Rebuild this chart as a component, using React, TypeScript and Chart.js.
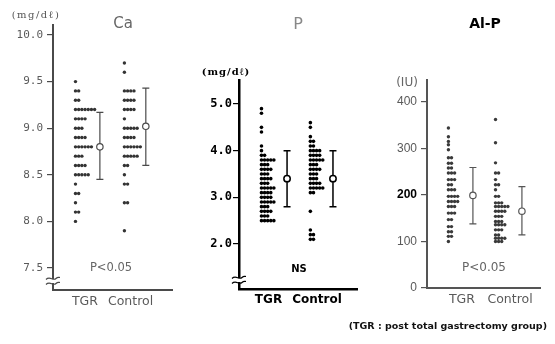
import React, { useEffect, useRef } from "react";
import { Chart, registerables } from "chart.js";

Chart.register(...registerables);

// ---------- data ----------
const groupLabels = ["TGR", "Control"];

// Ca (mg/dl)
const caTgrValues = [9.5, 9.4, 9.3, 9.2, 9.1, 9.0, 8.9, 8.8, 8.7, 8.6, 8.5, 8.4, 8.3, 8.2, 8.1, 8.0];
const caTgrCounts = [1, 2, 2, 7, 4, 3, 4, 6, 3, 4, 5, 1, 2, 1, 2, 1];
const caCtrlValues = [9.7, 9.6, 9.4, 9.3, 9.2, 9.1, 9.0, 8.9, 8.8, 8.7, 8.6, 8.5, 8.4, 8.2, 7.9];
const caCtrlCounts = [1, 1, 4, 4, 4, 1, 5, 4, 6, 5, 2, 1, 2, 2, 1];
const caMeans = [8.8, 9.02];
const caLows = [8.45, 8.6];
const caHighs = [9.17, 9.43];
const caTicks = [7.5, 8.0, 8.5, 9.0, 9.5, 10.0];
const caRange = [7.264, 10.107];

// P (mg/dl)
const pTgrValues = [4.9, 4.8, 4.5, 4.4, 4.1, 4.0, 3.9, 3.8, 3.7, 3.6, 3.5, 3.4, 3.3, 3.2, 3.1, 3.0, 2.9, 2.8, 2.7, 2.6, 2.5];
const pTgrCounts = [1, 1, 1, 1, 1, 1, 2, 5, 3, 4, 3, 4, 3, 5, 4, 4, 5, 3, 4, 3, 5];
const pCtrlValues = [4.6, 4.5, 4.3, 4.2, 4.1, 4.0, 3.9, 3.8, 3.7, 3.6, 3.5, 3.4, 3.3, 3.2, 3.1, 2.7, 2.3, 2.2, 2.1];
const pCtrlCounts = [1, 1, 1, 2, 2, 4, 4, 5, 3, 4, 3, 3, 4, 5, 2, 1, 1, 2, 2];
const pMeans = [3.4, 3.4];
const pLows = [2.8, 2.8];
const pHighs = [4.0, 4.0];
const pTicks = [2.0, 3.0, 4.0, 5.0];
const pRange = [1.036, 5.514];

// Al-P (IU)
const alpTgrValues = [344, 325, 315, 308, 297, 280, 268, 258, 247, 233, 222, 211, 197, 186, 175, 161, 147, 132, 121, 111, 100];
const alpTgrCounts = [1, 1, 1, 1, 1, 2, 2, 2, 3, 3, 2, 3, 4, 4, 3, 3, 2, 2, 2, 2, 1];
const alpCtrlValues = [362, 312, 269, 247, 233, 222, 211, 197, 183, 175, 165, 154, 143, 136, 125, 114, 107, 100];
const alpCtrlCounts = [1, 1, 1, 2, 1, 2, 1, 2, 3, 5, 4, 3, 3, 4, 3, 2, 4, 3];
const alpMeans = [199, 165];
const alpLows = [138, 114];
const alpHighs = [259, 218];
const alpTicks = [0, 100, 200, 300, 400];
const alpRange = [0, 447];

const footnote = "(TGR : post total gastrectomy group)";

// ---------- layout / style ----------
type Panel = {
  key: string;
  tgr: [number[], number[]];
  ctrl: [number[], number[]];
  means: number[];
  lows: number[];
  highs: number[];
  ticks: number[];
  range: number[];
  decimals: number;
  area: { left: number; right: number; top: number; bottom: number };
  xMax: number;
  dotStart: number[];
  dotStep: number;
  dotRadius: number;
  meanX: number[];
  labelX: number[];
  ink: string;
  dotInk: string;
  textInk: string;
  axisWidth: number;
  tickFont: (v: number) => any;
  tickColor: (v: number) => string;
  tickLen: number;
  tickPad: number;
  xFont: any;
  title: string;
  titleFont: string;
  titleColor: string;
  titlePos: number[];
  unit: string;
  unitFont: string;
  unitColor: string;
  unitPos: number[];
  unitSpacing: string;
  note: string;
  noteFont: string;
  noteColor: string;
  notePos: number[];
  hasBreak: boolean;
  footnote?: boolean;
};

const W = 555;
const H = 344;

const panels: Panel[] = [
  {
    key: "ca",
    tgr: [caTgrValues, caTgrCounts],
    ctrl: [caCtrlValues, caCtrlCounts],
    means: caMeans,
    lows: caLows,
    highs: caHighs,
    ticks: caTicks,
    range: caRange,
    decimals: 1,
    area: { left: 53, right: 172, top: 25, bottom: 290 },
    xMax: 5.0,
    dotStart: [0.945, 3.0],
    dotStep: 0.134,
    dotRadius: 1.7,
    meanX: [1.97, 3.9],
    labelX: [1.34, 3.26],
    ink: "#4a4a4a",
    dotInk: "#333",
    textInk: "#5a5a5a",
    axisWidth: 2,
    tickFont: () => ({ family: "'DejaVu Sans Mono'", size: 11 }),
    tickColor: () => "#5a5a5a",
    tickLen: 6,
    tickPad: 4,
    xFont: { family: "'DejaVu Sans'", size: 12.5 },
    title: "Ca",
    titleFont: "15px 'DejaVu Sans'",
    titleColor: "#666",
    titlePos: [123, 24],
    unit: "(mg/dℓ)",
    unitFont: "10px 'DejaVu Serif'",
    unitColor: "#555",
    unitPos: [36, 15],
    unitSpacing: "1.5px",
    note: "P<0.05",
    noteFont: "11.5px 'DejaVu Sans'",
    noteColor: "#666",
    notePos: [111, 268],
    hasBreak: true,
  },
  {
    key: "p",
    tgr: [pTgrValues, pTgrCounts],
    ctrl: [pCtrlValues, pCtrlCounts],
    means: pMeans,
    lows: pLows,
    highs: pHighs,
    ticks: pTicks,
    range: pRange,
    decimals: 1,
    area: { left: 239, right: 357, top: 80, bottom: 289 },
    xMax: 4.96,
    dotStart: [0.945, 3.0],
    dotStep: 0.13,
    dotRadius: 1.8,
    meanX: [2.02, 3.95],
    labelX: [1.24, 3.28],
    ink: "#000",
    dotInk: "#000",
    textInk: "#000",
    axisWidth: 2.5,
    tickFont: () => ({ family: "'DejaVu Sans Mono'", size: 12, weight: "bold" }),
    tickColor: () => "#000",
    tickLen: 6,
    tickPad: 1,
    xFont: { family: "'DejaVu Sans'", size: 12, weight: "bold" },
    title: "P",
    titleFont: "16px 'DejaVu Sans'",
    titleColor: "#888",
    titlePos: [298, 25],
    unit: "(mg/dℓ)",
    unitFont: "bold 10px 'DejaVu Serif'",
    unitColor: "#000",
    unitPos: [226, 72],
    unitSpacing: "1px",
    note: "NS",
    noteFont: "bold 10px 'DejaVu Sans'",
    noteColor: "#000",
    notePos: [299, 269],
    hasBreak: true,
  },
  {
    key: "alp",
    tgr: [alpTgrValues, alpTgrCounts],
    ctrl: [alpCtrlValues, alpCtrlCounts],
    means: alpMeans,
    lows: alpLows,
    highs: alpHighs,
    ticks: alpTicks,
    range: alpRange,
    decimals: 0,
    area: { left: 427, right: 540, top: 80, bottom: 288 },
    xMax: 4.75,
    dotStart: [0.9, 2.88],
    dotStep: 0.13,
    dotRadius: 1.7,
    meanX: [1.93, 3.99],
    labelX: [1.47, 3.49],
    ink: "#555",
    dotInk: "#3a3a3a",
    textInk: "#5a5a5a",
    axisWidth: 2,
    tickFont: (v: number) => ({ family: "'Liberation Sans'", size: 12, weight: v === 200 ? "bold" : "normal" }),
    tickColor: (v: number) => (v === 200 ? "#000" : "#5a5a5a"),
    tickLen: 6,
    tickPad: 4,
    xFont: { family: "'DejaVu Sans'", size: 12.5 },
    title: "Al-P",
    titleFont: "bold 14px 'DejaVu Sans'",
    titleColor: "#000",
    titlePos: [485, 24],
    unit: "(IU)",
    unitFont: "12px 'DejaVu Sans'",
    unitColor: "#666",
    unitPos: [407, 83],
    unitSpacing: "0px",
    note: "P<0.05",
    noteFont: "12px 'DejaVu Sans'",
    noteColor: "#666",
    notePos: [484, 268],
    hasBreak: false,
    footnote: true,
  },
];

function expandDots(values: number[], counts: number[], start: number, step: number) {
  const pts: { x: number; y: number }[] = [];
  values.forEach((v, i) => {
    for (let k = 0; k < counts[i]; k++) pts.push({ x: start + k * step, y: v });
  });
  return pts;
}

function buildChart(canvas: HTMLCanvasElement, p: Panel) {
  const xAxisH = 22;
  const yAxisW = 45;
  const decor = {
    id: "decor_" + p.key,
    afterDatasetsDraw(chart: any) {
      const ctx = chart.ctx;
      const xs = chart.scales.x;
      const ys = chart.scales.y;
      ctx.save();
      ctx.strokeStyle = p.ink;
      ctx.lineWidth = p.key === "p" ? 1.5 : 1.2;
      for (let i = 0; i < 2; i++) {
        const x = xs.getPixelForValue(p.meanX[i]);
        const yl = ys.getPixelForValue(p.lows[i]);
        const yh = ys.getPixelForValue(p.highs[i]);
        ctx.beginPath();
        ctx.moveTo(x, yl);
        ctx.lineTo(x, yh);
        ctx.moveTo(x - 3.5, yl);
        ctx.lineTo(x + 3.5, yl);
        ctx.moveTo(x - 3.5, yh);
        ctx.lineTo(x + 3.5, yh);
        ctx.stroke();
        const ym = ys.getPixelForValue(p.means[i]);
        ctx.beginPath();
        ctx.arc(x, ym, 3.2, 0, Math.PI * 2);
        ctx.fillStyle = "#fff";
        ctx.fill();
        ctx.stroke();
      }
      ctx.restore();
    },
    afterDraw(chart: any) {
      const ctx = chart.ctx;
      const ca = chart.chartArea;
      ctx.save();
      ctx.textAlign = "center";
      ctx.textBaseline = "middle";
      ctx.font = p.titleFont;
      ctx.fillStyle = p.titleColor;
      ctx.fillText(p.title, p.titlePos[0], p.titlePos[1]);
      ctx.font = p.unitFont;
      ctx.fillStyle = p.unitColor;
      (ctx as any).letterSpacing = p.unitSpacing;
      ctx.fillText(p.unit, p.unitPos[0], p.unitPos[1]);
      (ctx as any).letterSpacing = "0px";
      ctx.font = p.noteFont;
      ctx.fillStyle = p.noteColor;
      ctx.fillText(p.note, p.notePos[0], p.notePos[1]);
      if (p.hasBreak) {
        const bx = ca.left;
        const by = ca.bottom - 9;
        ctx.fillStyle = "#fff";
        ctx.beginPath();
        ctx.rect(bx - 4, by - 2, 8, 4);
        ctx.fill();
        ctx.strokeStyle = p.ink;
        ctx.lineWidth = 1.2;
        for (const off of [-2.5, 2.5]) {
          const y = by + off;
          ctx.beginPath();
          ctx.moveTo(bx - 7, y + 1);
          ctx.bezierCurveTo(bx - 3, y - 3, bx + 0, y + 3, bx + 3, y);
          ctx.bezierCurveTo(bx + 5, y - 2, bx + 6, y - 1, bx + 7, y - 1);
          ctx.stroke();
        }
      }
      if (p.footnote) {
        ctx.font = "bold 9.5px 'DejaVu Sans'";
        ctx.fillStyle = "#111";
        ctx.textAlign = "right";
        ctx.fillText(footnote, 547, 327);
      }
      ctx.restore();
    },
  };

  return new Chart(canvas, {
    type: "scatter",
    data: {
      datasets: [
        {
          label: groupLabels[0],
          data: expandDots(p.tgr[0], p.tgr[1], p.dotStart[0], p.dotStep),
          pointRadius: p.dotRadius,
          pointBackgroundColor: p.dotInk,
          pointBorderWidth: 0,
        },
        {
          label: groupLabels[1],
          data: expandDots(p.ctrl[0], p.ctrl[1], p.dotStart[1], p.dotStep),
          pointRadius: p.dotRadius,
          pointBackgroundColor: p.dotInk,
          pointBorderWidth: 0,
        },
      ],
    },
    options: {
      responsive: false,
      animation: false,
      devicePixelRatio: 1,
      events: [],
      layout: {
        padding: {
          left: p.area.left - yAxisW,
          right: W - p.area.right,
          top: p.area.top,
          bottom: H - p.area.bottom - xAxisH,
        },
      },
      plugins: { legend: { display: false }, tooltip: { enabled: false }, title: { display: false } },
      scales: {
        x: {
          type: "linear",
          min: 0,
          max: p.xMax,
          afterFit: (s: any) => {
            s.height = xAxisH;
          },
          afterBuildTicks: (s: any) => {
            s.ticks = p.labelX.map((v) => ({ value: v }));
          },
          grid: { display: false, drawTicks: false },
          border: { display: true, color: p.ink, width: p.axisWidth },
          ticks: {
            autoSkip: false,
            maxRotation: 0,
            padding: 4,
            color: p.textInk,
            font: p.xFont,
            callback: (_v: any, i: number) => groupLabels[i],
          },
        },
        y: {
          type: "linear",
          min: p.range[0],
          max: p.range[1],
          afterFit: (s: any) => {
            s.width = yAxisW;
          },
          afterBuildTicks: (s: any) => {
            s.ticks = p.ticks.map((v) => ({ value: v }));
          },
          grid: {
            display: true,
            drawOnChartArea: false,
            drawTicks: true,
            tickLength: p.tickLen,
            color: p.ink,
            lineWidth: 1.2,
          },
          border: { display: true, color: p.ink, width: p.axisWidth },
          ticks: {
            autoSkip: false,
            padding: p.tickPad,
            color: (c: any) => p.tickColor(c.tick ? c.tick.value : 0),
            font: (c: any) => p.tickFont(c.tick ? c.tick.value : 0),
            callback: (v: any) => Number(v).toFixed(p.decimals),
          },
        },
      },
    },
    plugins: [decor],
  } as any);
}

function PanelCanvas({ panel }: { panel: Panel }) {
  const ref = useRef<HTMLCanvasElement>(null);
  useEffect(() => {
    if (!ref.current) return;
    const chart = buildChart(ref.current, panel);
    return () => chart.destroy();
  }, [panel]);
  return (
    <canvas
      ref={ref}
      width={W}
      height={H}
      style={{ position: "absolute", left: 0, top: 0, width: W, height: H }}
    />
  );
}

export default function App() {
  return (
    <div style={{ position: "absolute", left: 0, top: 0, width: W, height: H, background: "#fff", overflow: "hidden" }}>
      {panels.map((p) => (
        <PanelCanvas key={p.key} panel={p} />
      ))}
    </div>
  );
}
